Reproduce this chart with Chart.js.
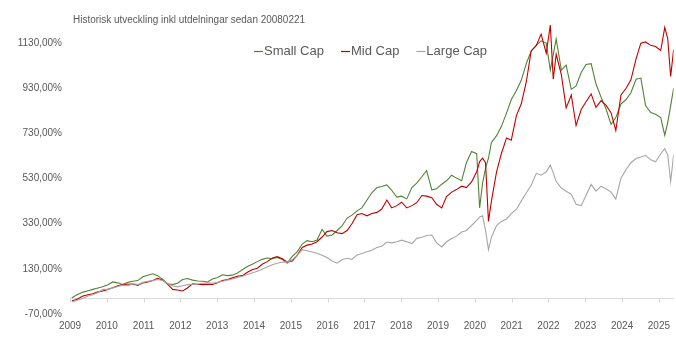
<!DOCTYPE html>
<html>
<head>
<meta charset="utf-8">
<script src="https://cdn.jsdelivr.net/npm/chart.js@4.4.0/dist/chart.umd.min.js"></script>
<style>
  body { margin: 0; background: #fff; }
  #wrap { width: 676px; height: 344px; position: relative; }
</style>
</head>
<body>
<div id="wrap"><canvas id="myChart"></canvas></div>
<script>
// Chart data (decimal years, % change since start)
const title = 'Historisk utveckling inkl utdelningar sedan 20080221';
const seriesNames = ['Small Cap', 'Mid Cap', 'Large Cap'];
const seriesColors = ['#548235', '#c00000', '#a6a6a6'];
const yearTicks = [2009, 2010, 2011, 2012, 2013, 2014, 2015, 2016, 2017, 2018, 2019, 2020, 2021, 2022, 2023, 2024, 2025];
const valueTicks = [-70, 130, 330, 530, 730, 930, 1130];

const dates = [
  2009.05, 2009.19, 2009.35, 2009.49, 2009.62, 2009.76, 2009.89, 2010.03, 2010.16, 2010.30,
  2010.43, 2010.57, 2010.71, 2010.84, 2010.98, 2011.11, 2011.25, 2011.38, 2011.52, 2011.65,
  2011.79, 2011.92, 2012.06, 2012.19, 2012.33, 2012.47, 2012.60, 2012.74, 2012.87, 2013.01,
  2013.14, 2013.28, 2013.41, 2013.55, 2013.68, 2013.82, 2013.95, 2014.09, 2014.22, 2014.36,
  2014.50, 2014.63, 2014.77, 2014.90, 2015.04, 2015.17, 2015.31, 2015.44, 2015.58, 2015.71,
  2015.85, 2015.98, 2016.12, 2016.26, 2016.39, 2016.53, 2016.66, 2016.80, 2016.93, 2017.07,
  2017.20, 2017.34, 2017.47, 2017.61, 2017.74, 2017.88, 2018.01, 2018.15, 2018.29, 2018.42,
  2018.56, 2018.69, 2018.83, 2018.96, 2019.10, 2019.23, 2019.37, 2019.50, 2019.64, 2019.77,
  2019.91, 2020.05, 2020.13, 2020.21, 2020.29, 2020.37, 2020.45, 2020.59, 2020.72, 2020.86,
  2020.99, 2021.13, 2021.26, 2021.40, 2021.53, 2021.67, 2021.80, 2021.94, 2022.05, 2022.13,
  2022.21, 2022.35, 2022.48, 2022.62, 2022.75, 2022.89, 2023.02, 2023.16, 2023.29, 2023.43,
  2023.56, 2023.70, 2023.83, 2023.97, 2024.11, 2024.24, 2024.38, 2024.51, 2024.64, 2024.78,
  2024.91, 2025.05, 2025.16, 2025.24, 2025.32, 2025.40
];

const smallCap = [
  2, 15, 27, 33, 39, 45, 51, 60, 72, 68,
  61, 70, 75, 78, 95, 102, 108, 100, 83, 64,
  60, 66, 83, 87, 80, 76, 75, 72, 85, 92,
  104, 100, 102, 112, 126, 140, 150, 162, 172, 178,
  175, 180, 172, 155, 185, 205, 240, 255, 250, 258,
  305, 275, 280, 300, 320, 355, 368, 387, 400, 435,
  467, 490, 495, 502, 478, 448, 452, 440, 490, 510,
  538, 565, 480, 485, 505, 520, 545, 532, 520, 600,
  650, 640, 400, 510, 575, 620, 690, 720, 760, 820,
  880, 920, 965, 1040, 1095, 1120, 1140, 1130, 1010, 1080,
  1148, 1010, 1032, 925, 940, 1000, 1035, 1039, 950, 890,
  840, 770, 800, 860, 880, 910, 970, 975, 852, 822,
  815, 800, 722, 778, 852, 930
];

const midCap = [
  -12, -5, 10, 15, 20, 28, 32, 39, 46, 55,
  61, 62, 63, 57, 68, 72, 78, 88, 80, 62,
  39, 36, 32, 45, 64, 62, 60, 62, 61, 68,
  78, 83, 90, 97, 100, 115, 126, 133, 150, 162,
  178, 184, 175, 160, 165, 190, 225, 235, 240, 250,
  271, 295, 300, 290, 286, 300, 330, 370, 375, 365,
  375, 380, 395, 435, 400, 410, 425, 400, 410, 423,
  455, 452, 445, 416, 400, 450, 470, 481, 496, 490,
  515, 560, 605, 620, 600, 340, 430, 560, 640, 710,
  700, 810, 860, 960, 1095, 1120, 1170, 1085, 1210, 970,
  1080, 990, 843, 900, 765, 836, 870, 905, 845, 875,
  855, 822, 743, 900, 930, 967, 1060, 1130, 1135, 1120,
  1115, 1097, 1200, 1150, 982, 1100
];

const largeCap = [
  -16, -10, 0, 10, 15, 25, 39, 39, 45, 52,
  58, 55, 64, 60, 70, 75, 78, 83, 78, 65,
  54, 50, 55, 60, 62, 63, 66, 68, 66, 70,
  75, 80, 85, 92, 97, 105, 112, 119, 128, 138,
  148, 155, 160, 160, 170, 190, 215, 210, 205, 199,
  190, 180, 165, 155, 170, 177, 172, 191, 198, 206,
  212, 225, 230, 249, 245, 250, 257, 250, 242, 265,
  270, 278, 280, 245, 227, 250, 264, 275, 293, 300,
  322, 345, 360, 365, 300, 215, 270, 322, 340, 351,
  375, 394, 430, 467, 500, 553, 545, 560, 590, 555,
  517, 488, 474, 460, 416, 410, 455, 504, 474, 496,
  485, 470, 439, 532, 570, 600, 619, 625, 633, 613,
  604, 640, 662, 635, 517, 635
];

const allSeries = [smallCap, midCap, largeCap];

function fmtPct(v) {
  return v.toFixed(2).replace('.', ',') + '%';
}

// title, legend and the zero axis line are drawn inside the plot like in Excel
const excelBits = {
  id: 'excelBits',
  beforeDatasetsDraw(chart) {
    const ctx = chart.ctx;
    const xs = chart.scales.x;
    const y0 = Math.round(chart.scales.y.getPixelForValue(0)) + 0.5;
    ctx.save();
    ctx.strokeStyle = '#d9d9d9';
    ctx.lineWidth = 1;
    ctx.beginPath();
    ctx.moveTo(chart.chartArea.left, y0);
    ctx.lineTo(chart.chartArea.right, y0);
    yearTicks.forEach(yr => {
      const px = Math.round(xs.getPixelForValue(yr)) + 0.5;
      ctx.moveTo(px, y0);
      ctx.lineTo(px, y0 + 4);
    });
    ctx.stroke();
    ctx.restore();
  },
  afterDraw(chart) {
    const ctx = chart.ctx;
    ctx.save();
    ctx.fillStyle = '#595959';
    ctx.textBaseline = 'middle';
    ctx.font = '10px "Liberation Sans", Arial, sans-serif';
    ctx.fillText(title, 73, 20, 232);

    ctx.font = '13px "Liberation Sans", Arial, sans-serif';
    let x = 254;
    const y = 51;
    chart.data.datasets.forEach(ds => {
      ctx.strokeStyle = ds.borderColor;
      ctx.lineWidth = 1.2;
      ctx.beginPath();
      ctx.moveTo(x, y + 0.5);
      ctx.lineTo(x + 9, y + 0.5);
      ctx.stroke();
      ctx.fillStyle = '#595959';
      ctx.fillText(ds.label, x + 10, y);
      x += 10 + ctx.measureText(ds.label).width + 17;
    });
    ctx.restore();
  }
};

const ctx = document.getElementById('myChart').getContext('2d');
const chart = new Chart(ctx, {
  type: 'line',
  data: {
    datasets: allSeries.map((vals, i) => ({
      label: seriesNames[i],
      data: dates.map((d, j) => ({ x: d, y: vals[j] })),
      borderColor: seriesColors[i],
      borderWidth: 1.1,
      pointRadius: 0,
      tension: 0,
      order: 2 - i
    }))
  },
  options: {
    responsive: true,
    maintainAspectRatio: false,
    animation: false,
    devicePixelRatio: 1,
    layout: { padding: { top: 16, bottom: 6, left: 0, right: 0 } },
    plugins: {
      legend: { display: false },
      title: { display: false },
      tooltip: { enabled: false }
    },
    scales: {
      x: {
        type: 'linear',
        min: 2009,
        max: 2025.4,
        grid: { display: false, drawTicks: false },
        border: { display: false },
        afterBuildTicks: s => { s.ticks = yearTicks.map(v => ({ value: v })); },
        ticks: {
          padding: 6,
          maxRotation: 0,
          autoSkip: false,
          color: '#595959',
          font: { family: '"Liberation Sans", Arial, sans-serif', size: 10 },
          callback: v => String(v)
        }
      },
      y: {
        min: -70,
        max: 1250,
        grid: { display: false, drawTicks: false },
        border: { display: false },
        afterBuildTicks: s => { s.ticks = valueTicks.map(v => ({ value: v })); },
        afterFit: s => { s.width = 70; },
        ticks: {
          padding: 8,
          color: '#595959',
          font: { family: '"Liberation Sans", Arial, sans-serif', size: 10 },
          callback: v => fmtPct(v)
        }
      }
    }
  },
  plugins: [excelBits]
});
</script>
</body>
</html>
